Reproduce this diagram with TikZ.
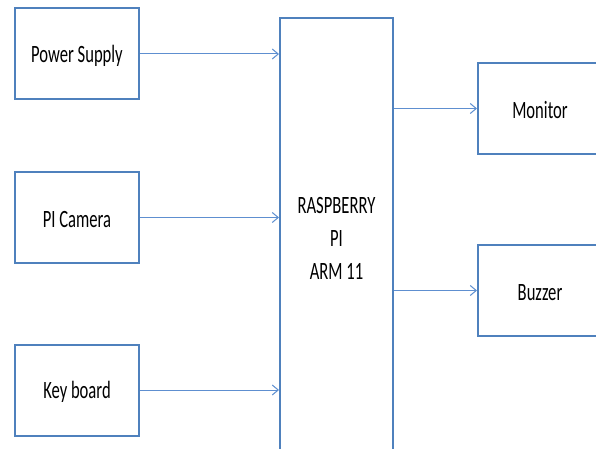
\documentclass[tikz,border=0pt]{standalone}
\usepackage{fontspec}
\setmainfont{Carlito}
\usepackage{graphicx}
\usetikzlibrary{arrows.meta}
\definecolor{boxblue}{HTML}{4F81BD}
\definecolor{arrblue}{HTML}{5E8FD0}
\newcommand\tallText[1]{\raisebox{-2pt}[\height][\depth]{\scalebox{1}[1.5]{#1}}}
\begin{document}
\begin{tikzpicture}[x=1pt,y=-1pt,
    font=\fontsize{16.6}{22}\selectfont,
    blk/.style={draw=boxblue, line width=2pt, minimum width=124pt, minimum height=91pt, inner sep=0pt},
    arr/.style={draw=arrblue, line width=1pt, -{Straight Barb[length=6pt,width=10pt]}}]
  \useasboundingbox (0,0) rectangle (596,449);
  \clip (0,0) rectangle (596,449);
  % inputs
  \node[blk] (ps)  at (77,54)    {\tallText{Power Supply}};
  \node[blk] (cam) at (77,217.5) {\tallText{PI Camera}};
  \node[blk] (kb)  at (77,390)   {\tallText{Key board}};
  % controller
  \node[blk, minimum width=113pt, minimum height=440pt] (rpi) at (336.5,238)
    {\tallText{\begin{tabular}{c}RASPBERRY\\PI\\ARM 11\end{tabular}}};
  % outputs
  \node[blk] (mon) at (540,108.5) {\tallText{Monitor}};
  \node[blk] (buz) at (540,290.5) {\tallText{Buzzer}};
  \draw[arr] (ps.east)  -- (ps.east -| rpi.west);
  \draw[arr] (cam.east) -- (cam.east -| rpi.west);
  \draw[arr] (kb.east)  -- (kb.east -| rpi.west);
  \draw[arr] (mon.west -| rpi.east) -- (mon.west);
  \draw[arr] (buz.west -| rpi.east) -- (buz.west);
\end{tikzpicture}
\end{document}
